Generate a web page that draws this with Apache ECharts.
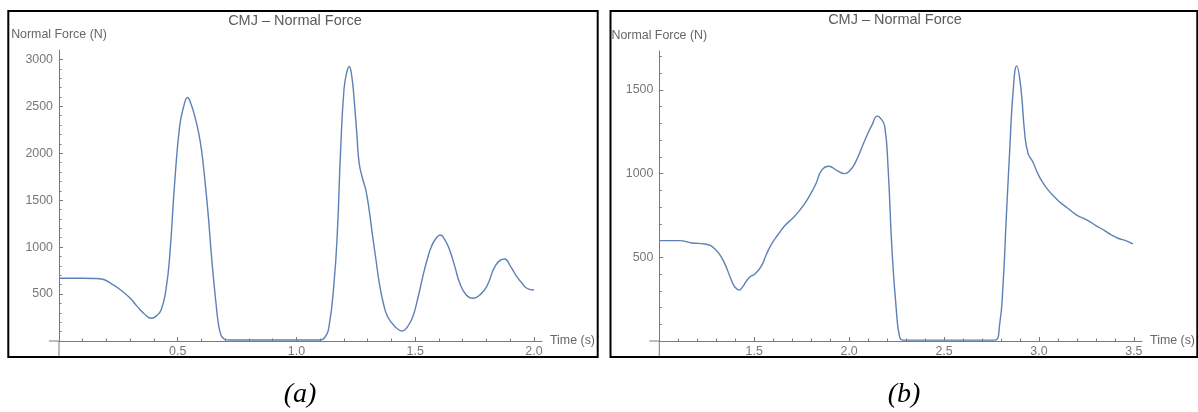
<!DOCTYPE html>
<html>
<head>
<meta charset="utf-8">
<script src="https://cdn.jsdelivr.net/npm/echarts@6/dist/echarts.min.js"></script>
<style>
html,body{margin:0;padding:0;background:#fff;}
#chart{width:1198px;height:412px;}
</style>
</head>
<body>
<div id="chart"></div>
<script>
// ---- Panel (a) data ----
const timeA = [0, 0.05, 0.10, 0.15, 0.18, 0.22, 0.26, 0.30, 0.33, 0.36, 0.389, 0.41, 0.43, 0.45, 0.466, 0.487, 0.508, 0.525, 0.541, 0.557, 0.572, 0.587, 0.600, 0.615, 0.629, 0.640, 0.650, 0.661, 0.671, 0.682, 0.692, 0.705, 0.75, 0.85, 0.95, 1.05, 1.10, 1.12, 1.137, 1.158, 1.172, 1.186, 1.20, 1.211, 1.222, 1.233, 1.243, 1.254, 1.264, 1.278, 1.292, 1.306, 1.321, 1.335, 1.349, 1.366, 1.384, 1.415, 1.445, 1.468, 1.490, 1.511, 1.532, 1.550, 1.568, 1.588, 1.606, 1.625, 1.645, 1.667, 1.688, 1.715, 1.744, 1.772, 1.801, 1.840, 1.876, 1.902, 1.928, 1.950, 1.970, 2.0];
const forceA = [668, 668, 668, 666, 660, 612, 543, 455, 366, 288, 242, 266, 330, 543, 899, 1681, 2285, 2498, 2594, 2516, 2391, 2231, 2036, 1698, 1325, 970, 685, 405, 189, 64, 29, 12, 10, 10, 10, 10, 10, 40, 153, 615, 1148, 2036, 2676, 2853, 2924, 2818, 2569, 2214, 1894, 1734, 1610, 1396, 1112, 863, 615, 402, 259, 153, 107, 153, 259, 455, 685, 863, 1005, 1095, 1130, 1077, 970, 792, 615, 490, 455, 490, 579, 810, 874, 792, 685, 615, 562, 543];
// ---- Panel (b) data ----
const timeB = [1.0, 1.05, 1.108, 1.17, 1.24, 1.293, 1.337, 1.381, 1.40, 1.421, 1.44, 1.46, 1.48, 1.504, 1.539, 1.565, 1.592, 1.625, 1.662, 1.70, 1.732, 1.765, 1.793, 1.825, 1.855, 1.893, 1.934, 1.977, 2.005, 2.03, 2.083, 2.12, 2.149, 2.17, 2.188, 2.205, 2.226, 2.249, 2.267, 2.285, 2.4, 2.5, 2.6, 2.7, 2.767, 2.793, 2.811, 2.828, 2.846, 2.863, 2.883, 2.904, 2.925, 2.943, 2.968, 2.99, 3.013, 3.05, 3.10, 3.15, 3.197, 3.258, 3.30, 3.346, 3.38, 3.416, 3.46, 3.495];
const forceB = [600, 600, 600, 586, 580, 550, 480, 360, 320, 304, 325, 360, 385, 400, 450, 520, 580, 635, 690, 730, 770, 820, 870, 940, 1020, 1044, 1020, 1000, 1020, 1060, 1200, 1290, 1344, 1325, 1280, 1040, 540, 180, 20, 5, 5, 5, 5, 5, 5, 100, 340, 740, 1140, 1480, 1644, 1520, 1240, 1120, 1070, 1010, 960, 900, 840, 795, 754, 720, 690, 660, 635, 614, 598, 580];
// ---- Tick labels ----
const xTicksA = [0.5, 1.0, 1.5, 2.0];
const yTicksA = [500, 1000, 1500, 2000, 2500, 3000];
const xTicksB = [1.5, 2.0, 2.5, 3.0, 3.5];
const yTicksB = [500, 1000, 1500];
const titleText = 'CMJ \u2013 Normal Force';
const yName = 'Normal Force (N)';
const xName = 'Time (s)';
const captions = ['(a)', '(b)'];

const FONT = '"Liberation Sans", Arial, sans-serif';
const AX = '#7a7a7a';
const LBL = '#777';
const LINE = '#5E81B5';

function xAxisCfg(grid, min, max, ticks) {
  return {
    type: 'value', gridIndex: grid, min: min, max: max, interval: 0.5,
    name: xName, nameLocation: 'end', nameGap: 8,
    nameTextStyle: {color: '#666', fontFamily: FONT, fontSize: 12.4, verticalAlign: 'middle'},
    axisLine: {show: true, onZero: true, lineStyle: {color: AX, width: 1}},
    axisTick: {show: true, inside: true, length: 4, customValues: ticks, lineStyle: {color: AX}},
    minorTick: {show: true, splitNumber: 5, length: 2.5, lineStyle: {color: AX}},
    axisLabel: {show: true, customValues: ticks, margin: 5, color: LBL, fontFamily: FONT, fontSize: 12.4,
      formatter: v => Number(v).toFixed(1)},
    splitLine: {show: false}, minorSplitLine: {show: false}
  };
}
function yAxisCfg(grid, max, ticks) {
  return {
    type: 'value', gridIndex: grid, min: 0, max: max, interval: 500,
    name: yName, nameLocation: 'end', nameGap: 9,
    nameTextStyle: {color: '#666', fontFamily: FONT, fontSize: 12.4, align: 'center'},
    axisLine: {show: true, onZero: false, lineStyle: {color: AX, width: 1}},
    axisTick: {show: true, inside: true, length: 4, customValues: ticks, lineStyle: {color: AX}},
    minorTick: {show: true, splitNumber: 5, length: 2.5, lineStyle: {color: AX}},
    axisLabel: {show: true, customValues: ticks, margin: 6, color: LBL, fontFamily: FONT, fontSize: 12.4,
      formatter: v => String(Math.round(v))},
    splitLine: {show: false}, minorSplitLine: {show: false}
  };
}

const chart = echarts.init(document.getElementById('chart'), null, {renderer: 'canvas'});
const option = {
  animation: false,
  backgroundColor: '#fff',
  title: [
    {text: titleText, left: 295, top: 13, textAlign: 'center', padding: 0,
     textStyle: {color: '#5a5a5a', fontFamily: FONT, fontSize: 14.5, fontWeight: 'normal'}},
    {text: titleText, left: 895, top: 12, textAlign: 'center', padding: 0,
     textStyle: {color: '#5a5a5a', fontFamily: FONT, fontSize: 14.5, fontWeight: 'normal'}}
  ],
  grid: [
    {left: 59, top: 50, width: 483, height: 291},
    {left: 659.3, top: 51, width: 483.2, height: 290}
  ],
  xAxis: [xAxisCfg(0, 0, 2.034, xTicksA), xAxisCfg(1, 1.0, 3.543, xTicksB)],
  yAxis: [yAxisCfg(0, 3100, yTicksA), yAxisCfg(1, 1733, yTicksB)],
  series: [
    {type: 'line', xAxisIndex: 0, yAxisIndex: 0, data: timeA.map((t, i) => [t, forceA[i]]),
     showSymbol: false, smooth: 0.5, lineStyle: {color: LINE, width: 1.4}, clip: false},
    {type: 'line', xAxisIndex: 1, yAxisIndex: 1, data: timeB.map((t, i) => [t, forceB[i]]),
     showSymbol: false, smooth: 0.5, lineStyle: {color: LINE, width: 1.4}, clip: false}
  ],
  graphic: [
    {type: 'rect', shape: {x: 8.3, y: 11, width: 589.4, height: 346}, style: {fill: null, stroke: '#000', lineWidth: 2}, silent: true},
    {type: 'rect', shape: {x: 610.5, y: 11, width: 586.8, height: 346}, style: {fill: null, stroke: '#000', lineWidth: 2}, silent: true},
    {type: 'text', x: 300, y: 395, style: {text: captions[0], fill: '#000', font: 'italic 28px "Liberation Serif", "Times New Roman", serif', align: 'center', verticalAlign: 'middle'}},
    {type: 'text', x: 904, y: 395, style: {text: captions[1], fill: '#000', font: 'italic 28px "Liberation Serif", "Times New Roman", serif', align: 'center', verticalAlign: 'middle'}}
  ]
};
chart.setOption(option);

// short axis extensions past the origin (Mathematica style)
const ext = [];
[[0, 0], [1, 1.0]].forEach(([g, x0]) => {
  const o = chart.convertToPixel({gridIndex: g}, [x0, 0]);
  ext.push({type: 'line', shape: {x1: o[0] - 10, y1: o[1], x2: o[0], y2: o[1]}, style: {stroke: AX, lineWidth: 1}, silent: true});
  ext.push({type: 'line', shape: {x1: o[0], y1: o[1], x2: o[0], y2: o[1] + 15}, style: {stroke: AX, lineWidth: 1}, silent: true});
});
chart.setOption({graphic: option.graphic.concat(ext)});
</script>
</body>
</html>
